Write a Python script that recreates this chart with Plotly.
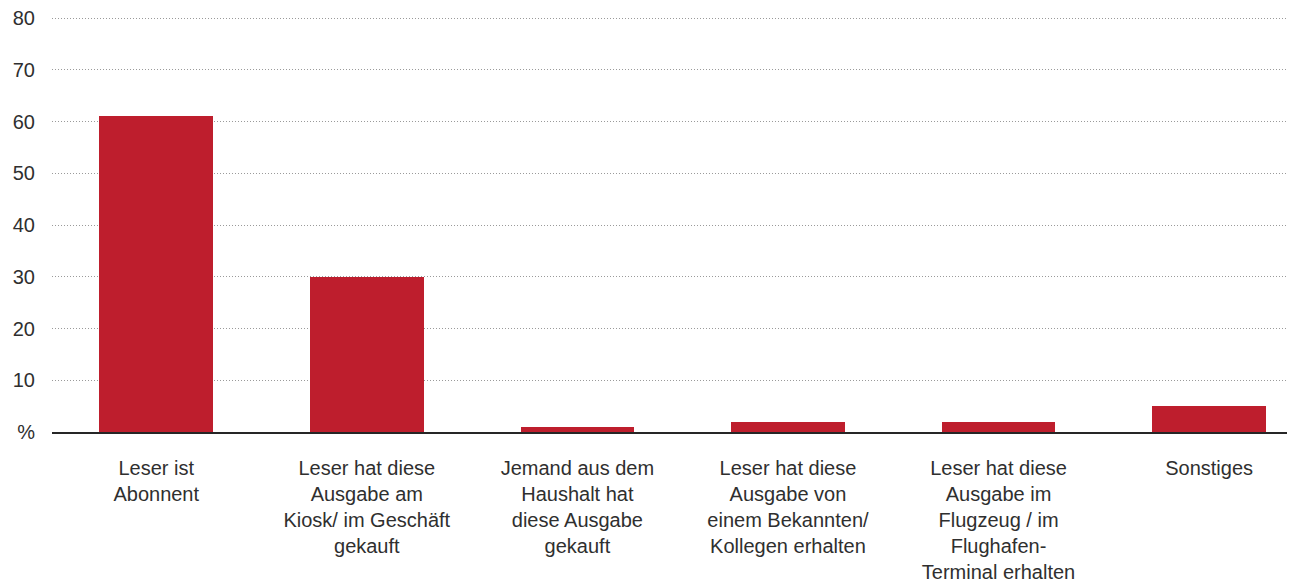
import plotly.graph_objects as go

# Categories and values
categories = [
    "Leser ist<br>Abonnent",
    "Leser hat diese<br>Ausgabe am<br>Kiosk/ im Geschäft<br>gekauft",
    "Jemand aus dem<br>Haushalt hat<br>diese Ausgabe<br>gekauft",
    "Leser hat diese<br>Ausgabe von<br>einem Bekannten/<br>Kollegen erhalten",
    "Leser hat diese<br>Ausgabe im<br>Flugzeug / im<br>Flughafen-<br>Terminal erhalten",
    "Sonstiges",
]
values = [61, 30, 1, 2, 2, 5]

y_tickvals = [0, 10, 20, 30, 40, 50, 60, 70, 80]
y_ticktext = ["%", "10", "20", "30", "40", "50", "60", "70", "80"]

BAR_COLOR = "#BE1E2D"
TEXT_COLOR = "#2f2f2f"
FONT = "Liberation Sans, Arial, sans-serif"

positions = list(range(len(categories)))

fig = go.Figure()
fig.add_trace(go.Bar(
    x=positions,
    y=values,
    marker=dict(color=BAR_COLOR, line=dict(width=0)),
    width=0.54,
    hoverinfo="skip",
))

fig.update_layout(
    width=1291,
    height=583,
    margin=dict(l=52, r=4, t=17, b=151, autoexpand=False),
    plot_bgcolor="white",
    paper_bgcolor="white",
    showlegend=False,
    font=dict(family=FONT, size=20, color=TEXT_COLOR),
    bargap=0,
)

fig.update_xaxes(
    range=[-0.495, 5.37],
    tickvals=positions,
    ticktext=categories,
    showgrid=False,
    zeroline=False,
    showline=True,
    linecolor="#262626",
    linewidth=2,
    ticks="outside",
    ticklen=17,
    tickcolor="rgba(0,0,0,0)",
    tickfont=dict(size=20, color=TEXT_COLOR),
    automargin=False,
    fixedrange=True,
)

fig.update_yaxes(
    range=[0, 80.2],
    tickvals=y_tickvals,
    ticktext=y_ticktext,
    showgrid=True,
    gridcolor="#9a9a9a",
    gridwidth=1,
    griddash="1px,2px",
    zeroline=False,
    showline=False,
    ticks="outside",
    ticklen=12,
    tickcolor="rgba(0,0,0,0)",
    tickfont=dict(size=20, color=TEXT_COLOR),
    automargin=False,
    fixedrange=True,
)

# the page has a default body margin; remove it so the figure fills the window
fig.write_html(
    "out.html",
    config={"displayModeBar": False},
    post_script="document.body.style.margin='0';",
)
